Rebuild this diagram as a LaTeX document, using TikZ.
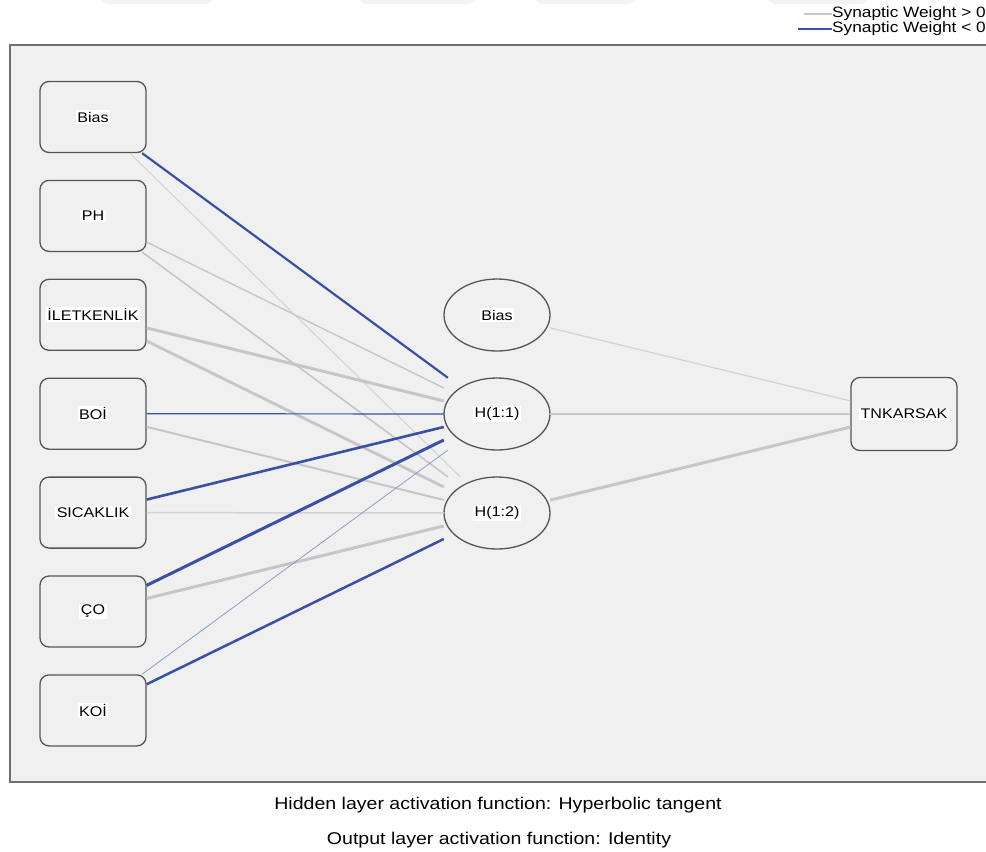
\documentclass[tikz,border=0pt]{standalone}
\usepackage{fontspec}
\setmainfont{Liberation Sans}[FakeStretch=1.15]
\usepackage{xcolor}
\usepackage{tikz}
\usetikzlibrary{positioning}
\definecolor{panelbg}{HTML}{F0F0F0}
\definecolor{boxline}{HTML}{555555}
\definecolor{frameline}{HTML}{707070}
\definecolor{wplus}{HTML}{C6C6C6}
\definecolor{wplusthin}{HTML}{D2D2D2}
\definecolor{wminus}{HTML}{3A4FA6}
\definecolor{wminusthin}{HTML}{8F9ACB}
\definecolor{wmark}{HTML}{F3F3F3}
\newcommand{\lbl}[1]{{\setlength{\fboxsep}{1.5pt}\colorbox{white}{#1}}}

\begin{document}
\begin{tikzpicture}[x=1pt,y=-1pt,font=\fontsize{14}{16}\selectfont,
  inbox/.style={draw=boxline, line width=1.3pt, rounded corners=9pt,
    minimum width=106pt, minimum height=71pt, inner sep=0pt},
  hidbox/.style={minimum width=106pt, minimum height=72pt, inner sep=0pt},
  wire/.style={line width=#1pt}]
\useasboundingbox (0,0) rectangle (986,852);
\fill[white] (0,0) rectangle (986,852);
\foreach \x/\w in {107/100, 365/104, 541/88, 774/88}{
  \fill[wmark] (\x-6,0) -- (\x+\w+6,0) -- (\x+\w,4) -- (\x,4) -- cycle;
}
\fill[panelbg] (10,45) rectangle (988,782);
\draw[frameline, line width=2pt] (10,45) rectangle (988,782);

\foreach \n/\t [count=\i from 0] in {ibias/Bias, iph/PH, iilet/İLETKENLİK,
    iboi/BOİ, isic/SICAKLIK, ico/ÇO, ikoi/KOİ}{
  \node[inbox] (\n) at (93,117+98.9*\i) {\lbl{\t}};
}
\node[hidbox] (hbias) at (497,315) {\lbl{Bias}};
\node[hidbox] (h11) at (497,414) {\lbl{H(1:1)}};
\node[hidbox] (h12) at (497,513) {\lbl{H(1:2)}};
\foreach \n in {hbias,h11,h12}{
  \draw[boxline, line width=1.3pt] (\n.center) ellipse [x radius=53pt, y radius=36pt];
}
\node[inbox, minimum height=73pt] (tnk) at (904,414) {\lbl{TNKARSAK}};

\foreach \a/\b/\c/\w in {ibias/h11/wminus/2.2, ibias/h12/wplusthin/1,
    iph/h11/wplus/1.4, iph/h12/wplus/1.6, iilet/h11/wplus/3, iilet/h12/wplus/2.8,
    iboi/h11/wminus/1.2, iboi/h12/wplus/2, isic/h11/wminus/2.6, isic/h12/wplusthin/1.5,
    ico/h11/wminus/3, ico/h12/wplus/3, ikoi/h11/wminusthin/0.8, ikoi/h12/wminus/2.5,
    hbias/tnk/wplusthin/1.2, h11/tnk/wplus/1.5, h12/tnk/wplus/3}{
  \draw[\c, wire=\w] (\a) -- (\b);
}

\node[anchor=east, inner sep=0pt, font=\fontsize{15}{17}\selectfont] (legpos) at (986,14) {Synaptic Weight > 0};
\node[anchor=east, inner sep=0pt, font=\fontsize{15}{17}\selectfont] (legneg) at (986,29) {Synaptic Weight < 0};
\coordinate (legposend) at ([xshift=-28pt]legpos.west);
\coordinate (legnegend) at ([xshift=-34pt]legneg.west);
\draw[wplus, wire=1.4] (legpos.west) -- (legposend);
\draw[wminus, wire=2] (legneg.west) -- (legnegend);

\node[font=\fontsize{17}{19}\selectfont] (hidfn) at (498,805) {Hidden layer activation function: Hyperbolic tangent};
\node[font=\fontsize{17}{19}\selectfont] (outfn) at (499,840) {Output layer activation function: Identity};
\end{tikzpicture}
\end{document}
